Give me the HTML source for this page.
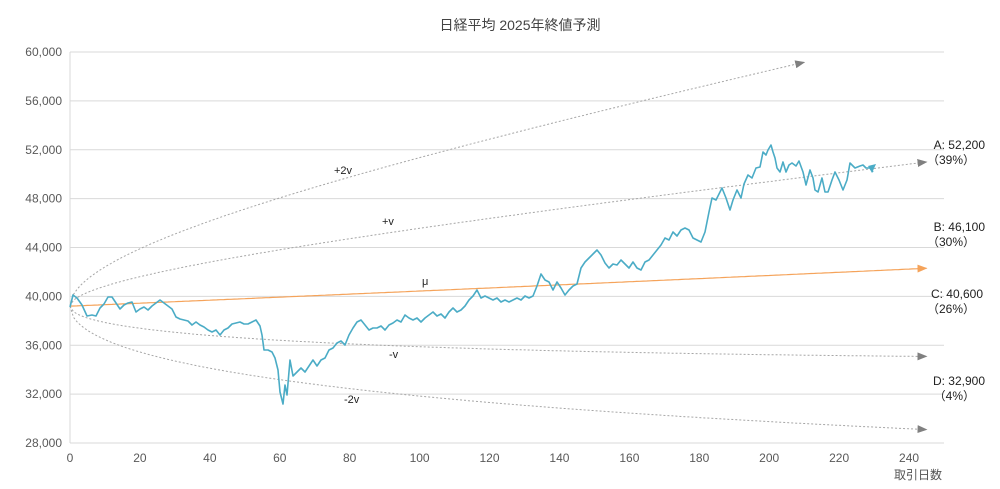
<!DOCTYPE html>
<html><head><meta charset="utf-8"><style>
html,body{margin:0;padding:0;background:#fff;}
svg{display:block;font-family:"Liberation Sans","Noto Sans CJK JP",sans-serif;}
</style></head><body>
<svg id="s" width="1000" height="489" viewBox="0 0 1000 489" xmlns="http://www.w3.org/2000/svg">
<defs>
<marker id="ag" markerWidth="10" markerHeight="8" refX="9" refY="4" orient="auto" markerUnits="userSpaceOnUse"><path d="M0,0 L10,4 L0,8z" fill="#808080"/></marker>
<marker id="ao" markerWidth="10" markerHeight="8" refX="9" refY="4" orient="auto" markerUnits="userSpaceOnUse"><path d="M0,0 L10,4 L0,8z" fill="#f5a35a"/></marker>
</defs>
<text x="520" y="30" text-anchor="middle" font-size="14" fill="#444">日経平均 2025年終値予測</text>
<g id="grid"></g>
<g id="curves"></g>
<polyline fill="none" stroke="#4bacc6" stroke-width="1.6" stroke-linejoin="round" points="70,307 73,295 77,298 82,305 87,316 92,315 96,316 100,308 104,304 108,297 112,297 116,303 120,309 124,305 128,303 132,302 136,312 140,309 144,307 148,310 152,306 156,303 160,300 164,303 168,306 172,309 176,317 180,319 184,320 188,321 192,325 196,322 200,325 204,327 208,330 212,332 216,330 220,335 224,330 228,328 232,324 236,323 240,322 244,324 248,324 252,322 256,320 260,326 262,335 264,350 268,350 272,352 275,358 278,370 280,392 283,404 285,385 287,395 290,360 293,376 297,372 301,368 305,372 309,366 313,360 317,366 321,360 325,358 329,350 333,348 337,343 341,341 345,345 349,335 353,328 357,322 361,320 365,325 369,330 373,328 377,328 381,326 385,330 389,325 393,323 397,320 401,322 405,315 409,318 413,320 417,318 421,322 425,318 429,315 433,312 437,316 441,314 445,318 449,312 453,308 457,312 461,310 465,306 469,300 473,296 477,290 481,298 485,296 489,298 493,300 497,298 501,302 505,300 509,302 513,300 517,298 521,300 525,296 529,298 533,296 537,286 541,274 545,280 549,282 553,290 557,282 561,288 565,295 569,290 573,286 577,284 581,268 585,262 589,258 593,254 597,250 601,255 605,263 609,268 613,264 617,265 621,260 625,264 629,268 633,262 637,268 641,270 645,262 649,260 653,255 657,250 661,245 665,238 669,240 673,232 677,236 681,230 685,228 689,230 693,238 697,240 701,242 705,232 709,212 712,198 716,200 719,194 722,188 726,198 730,210 733,200 737,190 741,198 744,184 748,175 752,178 756,168 760,167 763,152 766,155 768,150 771,145 773,152 775,158 777,168 780,172 783,162 786,172 789,165 792,163 796,166 799,161 803,172 806,185 810,170 813,178 815,190 818,192 822,178 825,192 828,192 832,180 835,172 839,180 843,190 847,180 850,163 855,168 860,166 863,165 866,168 870,168 873,172"/>
<path d="M868,166 L876,164 L872,173z" fill="#4bacc6"/>
<g font-size="11" fill="#222">
<text x="334" y="174">+2v</text>
<text x="382" y="225">+v</text>
<text x="422" y="285">μ</text>
<text x="389" y="358">-v</text>
<text x="344" y="403">-2v</text>
</g>
<g font-size="12" fill="#222" text-anchor="end">
<text x="985" y="149">A: 52,200</text><text x="975" y="164">（39%）</text>
<text x="985" y="231">B: 46,100</text><text x="975" y="246">（30%）</text>
<text x="983" y="298">C: 40,600</text><text x="975" y="313">（26%）</text>
<text x="985" y="385">D: 32,900</text><text x="975" y="400">（4%）</text>
</g>
<text x="918" y="479" text-anchor="middle" font-size="12" fill="#555">取引日数</text>
</svg>
<script>
var NS="http://www.w3.org/2000/svg";
function X(d){return 70+d*3.496;}
function Y(v){return 52+(60000-v)/32000*391;}
var g=document.getElementById('grid'),h='';
for(var v=28000;v<=60000;v+=4000){var y=Y(v);h+='<line x1="70" x2="944" y1="'+y+'" y2="'+y+'" stroke="#d9d9d9" stroke-width="1"/>';
h+='<text x="62" y="'+(y+4)+'" text-anchor="end" font-size="12" fill="#595959">'+v.toLocaleString('en-US')+'</text>';}
h+='<line x1="70" x2="70" y1="52" y2="443" stroke="#d9d9d9"/>';
for(var d=0;d<=240;d+=20){h+='<text x="'+X(d)+'" y="462" text-anchor="middle" font-size="12" fill="#595959">'+d+'</text>';}
g.innerHTML=h;
var c=document.getElementById('curves'),s='';
var S0=39200,a=0.0761/245,sg=0.01195;
function path(k,end){var p='';for(var t=0;t<=end;t+=1){var v=S0*Math.exp(a*t+k*sg*Math.sqrt(t));p+=(t?'L':'M')+X(t).toFixed(1)+','+Y(v).toFixed(1);}return p;}
s+='<path d="'+path(2,210)+'" fill="none" stroke="#a6a6a6" stroke-dasharray="2,2" marker-end="url(#ag)"/>';
[1,-1,-2].forEach(function(k){s+='<path d="'+path(k,245)+'" fill="none" stroke="#a6a6a6" stroke-dasharray="2,2" marker-end="url(#ag)"/>';});
s+='<path d="'+path(0,245)+'" fill="none" stroke="#f5a35a" stroke-width="1.2" marker-end="url(#ao)"/>';
c.innerHTML=s;
</script>
</body></html>
